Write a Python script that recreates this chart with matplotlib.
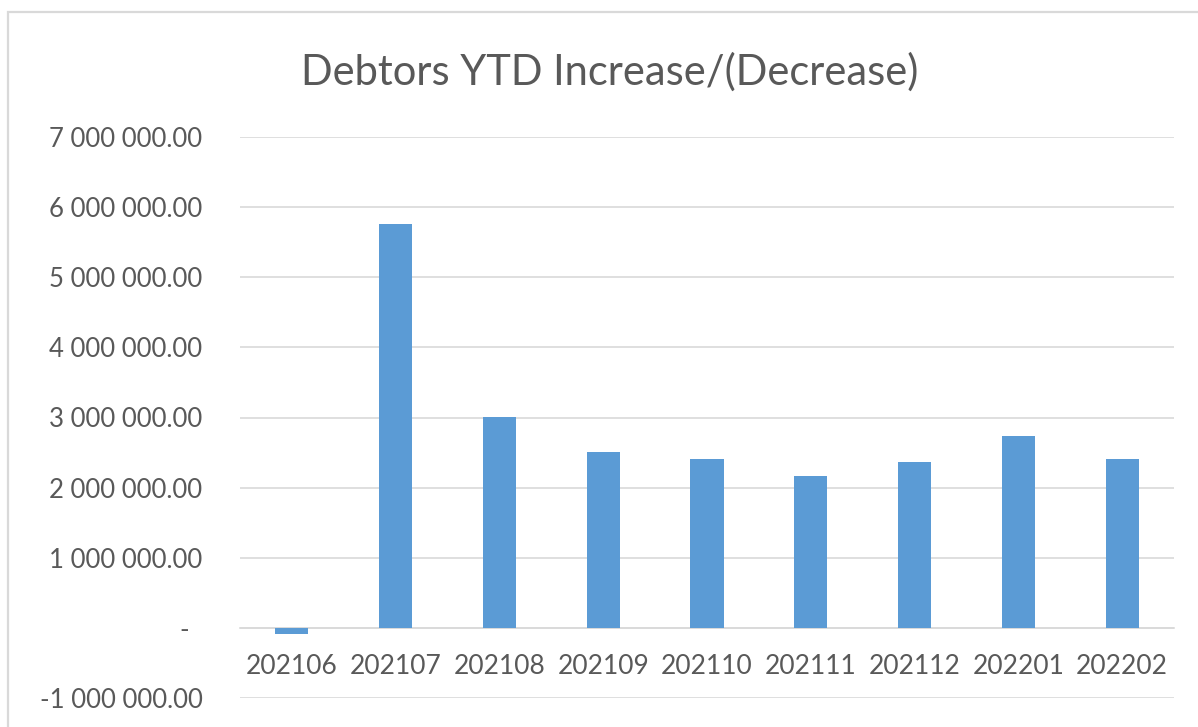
import matplotlib
matplotlib.use('Agg')
import matplotlib.pyplot as plt
from matplotlib.patches import Rectangle
from matplotlib.ticker import FuncFormatter, MultipleLocator

periods = ['202106', '202107', '202108', '202109', '202110',
           '202111', '202112', '202201', '202202']
ytd_change = [-85000, 5763000, 3010000, 2509000, 2414000,
              2161000, 2371000, 2737000, 2414000]

BAR = '#5B9BD5'
GRID = '#D9D9D9'
TEXT = '#595959'

plt.rcParams['font.family'] = ['Lato', 'DejaVu Sans']

fig = plt.figure(figsize=(11.98, 7.27), dpi=100)
W, H = 1198, 727

# chart-area border (runs off the right / bottom of the image)
fig.patches.append(Rectangle((8 / W, -0.1), 1.2, 1 - 12 / H + 0.1,
                             transform=fig.transFigure, fill=False,
                             edgecolor=GRID, linewidth=1.6))

ax = fig.add_axes([240 / W, 1 - 698 / H, (1174 - 240) / W, (698 - 137) / H])

x = list(range(len(periods)))
ax.bar(x, ytd_change, width=0.32, color=BAR, zorder=3)

ax.set_xlim(-0.5, len(periods) - 0.5)
ax.set_ylim(-1000000, 7000000)
ax.yaxis.set_major_locator(MultipleLocator(1000000))


def fmt(v, pos):
    if abs(v) < 1:
        return '-  '
    s = f'{abs(v):,.2f}'.replace(',', ' ')
    return ('-' if v < 0 else '') + s


ax.yaxis.set_major_formatter(FuncFormatter(fmt))
ax.grid(axis='y', color=GRID, linewidth=1.2, zorder=0)

for s in ['top', 'right', 'left']:
    ax.spines[s].set_visible(False)
ax.spines['bottom'].set_position(('data', 0))
ax.spines['bottom'].set_color(GRID)
ax.spines['bottom'].set_linewidth(1.2)

ax.set_xticks(x)
ax.set_xticklabels(periods)
ax.tick_params(axis='x', length=0, pad=19, labelsize=19, labelcolor=TEXT)
ax.tick_params(axis='y', length=0, pad=27, labelsize=18.5, labelcolor=TEXT)

fig.text(610 / W, 1 - 72 / H, 'Debtors YTD Increase/(Decrease)',
         ha='center', va='center', fontsize=30, color=TEXT)

fig.savefig('out.png', dpi=100)
